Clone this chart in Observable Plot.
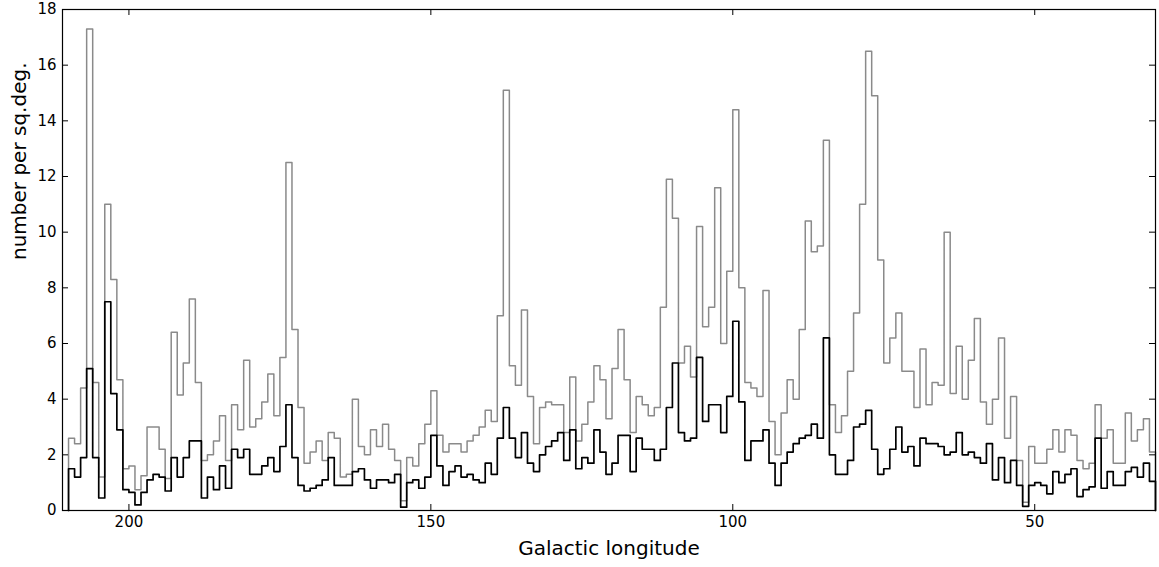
<!DOCTYPE html>
<html>
<head>
<meta charset="utf-8">
<script src="https://cdn.jsdelivr.net/npm/d3@7"></script>
<script src="https://cdn.jsdelivr.net/npm/@observablehq/plot@0.6"></script>
<style>
  html, body { margin: 0; padding: 0; background: #fff; }
  #chart svg { display: block; }
</style>
</head>
<body>
<div id="chart"></div>
<script>
// Histogram bins: 1 degree wide, from l = 210 down to l = 30
const binStart = 210;
const binWidth = 1;

// Total counts per sq.deg. (grey), bins 210 -> 31
const totalDensity = [
  2.6, 2.4, 4.4, 17.3, 4.6, 1.2, 11.0, 8.3, 4.7, 1.5,
  1.6, 0.75, 1.25, 3.0, 3.0, 2.2, 1.15, 6.4, 4.15, 5.3,
  7.6, 4.6, 1.8, 2.0, 2.5, 3.4, 1.8, 3.8, 2.9, 5.4,
  3.0, 3.3, 3.9, 4.9, 3.4, 5.5, 12.5, 6.5, 3.7, 1.7,
  2.1, 2.5, 1.8, 2.8, 2.6, 1.2, 1.3, 4.0, 2.3, 2.0,
  2.9, 2.3, 3.1, 2.2, 1.8, 0.35, 1.9, 1.6, 2.4, 3.1,
  4.3, 2.7, 2.1, 2.4, 2.4, 2.1, 2.5, 2.7, 3.0, 3.6,
  3.2, 7.0, 15.1, 5.2, 4.5, 7.2, 4.1, 2.4, 3.7, 3.9,
  3.8, 3.8, 2.8, 4.8, 2.5, 3.1, 3.9, 5.2, 4.7, 3.3,
  5.1, 6.5, 4.7, 2.8, 4.1, 3.8, 3.4, 3.7, 7.3, 11.9,
  10.5, 5.3, 5.9, 4.8, 10.2, 6.6, 7.3, 11.6, 6.0, 8.6,
  14.4, 8.0, 4.6, 4.4, 4.1, 7.9, 3.2, 2.0, 3.5, 4.7,
  4.0, 6.5, 10.4, 9.3, 9.5, 13.3, 3.8, 2.8, 3.4, 5.0,
  7.1, 11.0, 16.5, 14.9, 9.0, 5.3, 6.2, 7.1, 5.0, 5.0,
  3.7, 5.8, 3.8, 4.6, 4.5, 10.0, 4.2, 5.9, 4.0, 5.4,
  6.9, 3.9, 3.1, 4.0, 6.2, 2.6, 4.1, 1.8, 0.3, 2.3,
  1.7, 1.7, 2.2, 2.9, 2.1, 2.9, 2.7, 1.8, 1.5, 1.7,
  3.8, 2.6, 2.9, 1.7, 1.7, 3.5, 2.5, 2.9, 3.3, 2.1
];

// Subset counts per sq.deg. (black), bins 210 -> 31
const subsetDensity = [
  1.5, 1.2, 1.9, 5.1, 1.9, 0.45, 7.5, 4.2, 2.9, 0.75,
  0.65, 0.2, 0.65, 1.1, 1.3, 1.2, 0.7, 1.9, 1.2, 1.9,
  2.5, 2.5, 0.45, 1.2, 0.75, 1.6, 0.8, 2.2, 1.9, 2.2,
  1.3, 1.3, 1.6, 1.9, 1.4, 2.3, 3.8, 1.9, 0.9, 0.7,
  0.8, 0.9, 1.1, 1.9, 0.9, 0.9, 0.9, 1.4, 1.5, 1.1,
  0.8, 1.1, 1.1, 1.0, 1.3, 0.12, 1.0, 1.1, 0.8, 1.2,
  2.7, 1.6, 0.9, 1.4, 1.6, 1.2, 1.3, 1.1, 1.0, 1.7,
  1.3, 2.6, 3.7, 2.6, 1.9, 2.8, 1.7, 1.4, 2.0, 2.3,
  2.5, 2.8, 1.8, 2.9, 1.5, 1.9, 1.7, 2.9, 2.1, 1.3,
  1.7, 2.7, 2.7, 1.4, 2.6, 2.2, 2.2, 1.8, 2.2, 3.7,
  5.3, 2.8, 2.5, 2.6, 5.5, 3.2, 3.8, 3.8, 2.8, 4.1,
  6.8, 3.9, 1.8, 2.5, 2.5, 2.9, 1.7, 0.9, 1.7, 2.1,
  2.4, 2.6, 2.7, 3.1, 2.6, 6.2, 2.0, 1.3, 1.3, 1.8,
  3.0, 3.1, 3.6, 2.2, 1.3, 1.5, 2.2, 3.0, 2.1, 2.3,
  1.6, 2.6, 2.4, 2.4, 2.3, 2.0, 2.1, 2.8, 2.0, 2.1,
  1.9, 1.7, 2.4, 1.1, 1.9, 1.0, 1.8, 0.9, 0.15, 0.9,
  1.0, 0.9, 0.6, 1.4, 1.0, 1.3, 1.5, 0.5, 0.75, 0.85,
  2.6, 0.8, 1.4, 0.9, 0.9, 1.4, 1.55, 1.2, 1.7, 1.05
];

const xDomain = [211, 30];
const yDomain = [0, 18];
const xTicks = [200, 150, 100, 50];
const yTicks = [0, 2, 4, 6, 8, 10, 12, 14, 16, 18];
const xLabel = "Galactic longitude";
const yLabel = "number per sq.deg.";

// Build step-histogram outline (like histtype='step'): up from 0, across bins, down to 0
function stepOutline(values) {
  const pts = [{lon: binStart, v: 0}];
  values.forEach((v, i) => pts.push({lon: binStart - i * binWidth, v}));
  pts.push({lon: binStart - values.length * binWidth, v: 0});
  return pts;
}

const W = 1159, H = 567;
const mL = 62, mR = 4, mT = 9, mB = 57;
const innerW = W - mL - mR, innerH = H - mT - mB;
const tickLen = 6;

const chart = Plot.plot({
  width: W,
  height: H,
  marginLeft: mL,
  marginRight: mR,
  marginTop: mT,
  marginBottom: mB,
  style: {fontFamily: "DejaVu Sans", fontSize: "15px", background: "#fff", color: "#000"},
  x: {domain: xDomain, axis: null},
  y: {domain: yDomain, axis: null},
  marks: [
    Plot.line(stepOutline(totalDensity), {x: "lon", y: "v", curve: "step-after", stroke: "#8a8a8a", strokeWidth: 1.5}),
    Plot.line(stepOutline(subsetDensity), {x: "lon", y: "v", curve: "step-after", stroke: "#000", strokeWidth: 1.7}),
    // inward ticks on all four sides
    Plot.tickX(xTicks, {x: d => d, insetTop: innerH - tickLen, stroke: "#000", strokeWidth: 1}),
    Plot.tickX(xTicks, {x: d => d, insetBottom: innerH - tickLen, stroke: "#000", strokeWidth: 1}),
    Plot.tickY(yTicks, {y: d => d, insetRight: innerW - tickLen, stroke: "#000", strokeWidth: 1}),
    Plot.tickY(yTicks, {y: d => d, insetLeft: innerW - tickLen, stroke: "#000", strokeWidth: 1}),
    Plot.frame({stroke: "#000", strokeWidth: 1.2}),
    Plot.axisX({ticks: xTicks, tickSize: 0, tickPadding: 6, label: null, fontSize: 15, tickFormat: d => String(d)}),
    Plot.axisY({ticks: yTicks, tickSize: 0, tickPadding: 6, label: null, fontSize: 15, tickFormat: d => String(d)}),
    Plot.text([xLabel], {frameAnchor: "bottom", dy: 44, fontSize: 20, fill: "#000"}),
    Plot.text([yLabel], {frameAnchor: "left", dx: -43, rotate: -90, fontSize: 20, fill: "#000"})
  ]
});

document.getElementById("chart").appendChild(chart);
</script>
</body>
</html>
